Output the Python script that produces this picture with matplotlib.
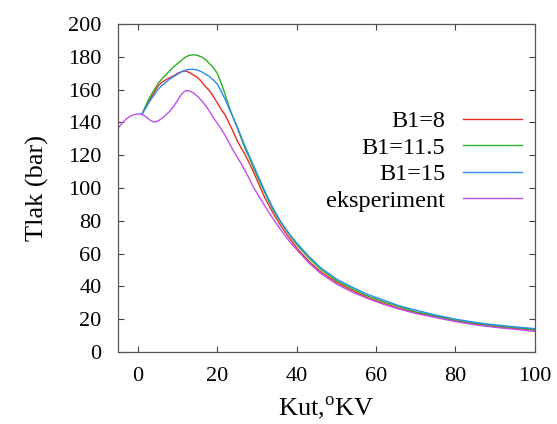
import matplotlib
matplotlib.use("Agg")
import matplotlib.pyplot as plt

plt.rcParams["font.family"] = "serif"
plt.rcParams["font.serif"] = ["Liberation Serif", "DejaVu Serif"]
plt.rcParams["mathtext.fontset"] = "custom"
plt.rcParams["mathtext.rm"] = "Liberation Serif"

# simulation x grid (deg crank angle)
x_sim = [1, 2, 3, 4, 5, 6, 7, 8, 9, 10, 11, 12, 13, 14, 15, 16, 17, 18, 19, 20,
         21, 22, 23, 24, 25, 26, 27, 28, 29, 30, 32, 34, 36, 38, 40, 43, 46, 50,
         54, 58, 62, 66, 70, 75, 80, 85, 90, 95, 100]

p_b8 = [145, 149.5, 154, 158, 162, 164.5, 166, 167.3, 168.5, 170, 171, 171.5, 170.5,
        169, 167.5, 165, 162, 159.5, 156, 152, 148, 144.5, 139.5, 134.5, 129, 124.5,
        120.5, 115.5, 110.5, 105, 94, 85, 77, 70, 63.5, 55.5, 49, 42.5, 37.5, 33,
        29.5, 26.5, 24, 21.5, 19, 17, 15.5, 14.3, 13.3]

p_b115 = [145, 150.5, 155.5, 159.5, 163.5, 166.5, 169, 171.5, 174, 176, 178, 180, 181,
          181.3, 181, 180, 178.5, 176, 173.5, 170, 164, 157, 149.5, 143, 137, 130.5,
          124, 119, 113, 107.5, 97, 87, 79, 72, 65.5, 57.5, 50.5, 43.5, 38.5, 34,
          30.5, 27.5, 24.5, 22, 19.5, 17.5, 16, 14.8, 13.7]

p_b15 = [145, 149, 153, 156.5, 160, 162.5, 164.5, 166.5, 168, 169.5, 171, 172, 172.4,
         172.4, 172, 171, 169.5, 168, 166, 163.5, 159, 154, 148.5, 143, 137.5, 131.5,
         125.5, 120, 114.5, 109, 98, 88, 79.5, 72.5, 66.5, 58.5, 51.5, 44.5, 39.5, 35,
         31.5, 28, 25.5, 22.5, 20, 18, 16.5, 15.3, 14.2]

# experiment
x_exp = [-5, -4, -3, -2, -1, 0, 1, 2, 3, 4, 5, 6, 7, 8, 9, 10, 11, 12, 13, 14, 15,
         16, 17, 18, 19, 20, 21, 22, 23, 24, 25, 26, 27, 28, 29, 30, 32, 34, 36, 38,
         40, 43, 46, 50, 54, 58, 62, 66, 70, 75, 80, 85, 90, 95, 100]
p_exp = [136.5, 139.5, 142, 143.8, 144.8, 145.2, 145, 143.5, 141.5, 140.3, 140.8,
         142.5, 144.5, 146.8, 149.8, 153.5, 157.3, 159.5, 159.3, 158, 156, 153.5,
         150.5, 147, 143, 139.5, 136, 132, 127.5, 123, 119, 115, 110.5, 106, 101,
         97, 89, 81.5, 74.5, 68, 62.5, 54.5, 48, 41.5, 36.5, 32.5, 29, 26, 23.5, 21,
         18.5, 16.5, 15, 13.8, 12.5]

fig = plt.figure(figsize=(5.57, 4.24), dpi=100)
ax = fig.add_axes([0.212, 0.170, 0.748, 0.773])

ax.plot(x_sim, p_b8, color="#ee2a24", lw=1.0, label="B1=8")
ax.plot(x_sim, p_b115, color="#28b028", lw=1.0, label="B1=11.5")
ax.plot(x_sim, p_b15, color="#2a8cf0", lw=1.0, label="B1=15")
ax.plot(x_exp, p_exp, color="#c050f0", lw=1.0, label="eksperiment")

ax.set_xlim(-5, 100)
ax.set_ylim(0, 200)
ax.set_xticks(range(0, 101, 20))
ax.set_yticks(range(0, 201, 20))
ax.tick_params(direction="in", top=True, right=True, length=4, width=0.8,
               labelsize=16, color="#444444")
ax.tick_params(axis="y", pad=12)
ax.tick_params(axis="x", pad=11)
for s in ax.spines.values():
    s.set_color("#555555")
    s.set_linewidth(0.9)

ax.set_xlabel("Kut,$^{\\mathrm{o}}$KV", fontsize=19, labelpad=6)
ax.set_ylabel("Tlak (bar)", fontsize=19, labelpad=14)

ax.legend(loc="upper right", bbox_to_anchor=(0.969, 0.737), frameon=False,
          markerfirst=False, fontsize=17.5, handlelength=2.4, handletextpad=0.75,
          labelspacing=0.18, borderpad=0, borderaxespad=0)

fig.savefig("out.png", dpi=100)
